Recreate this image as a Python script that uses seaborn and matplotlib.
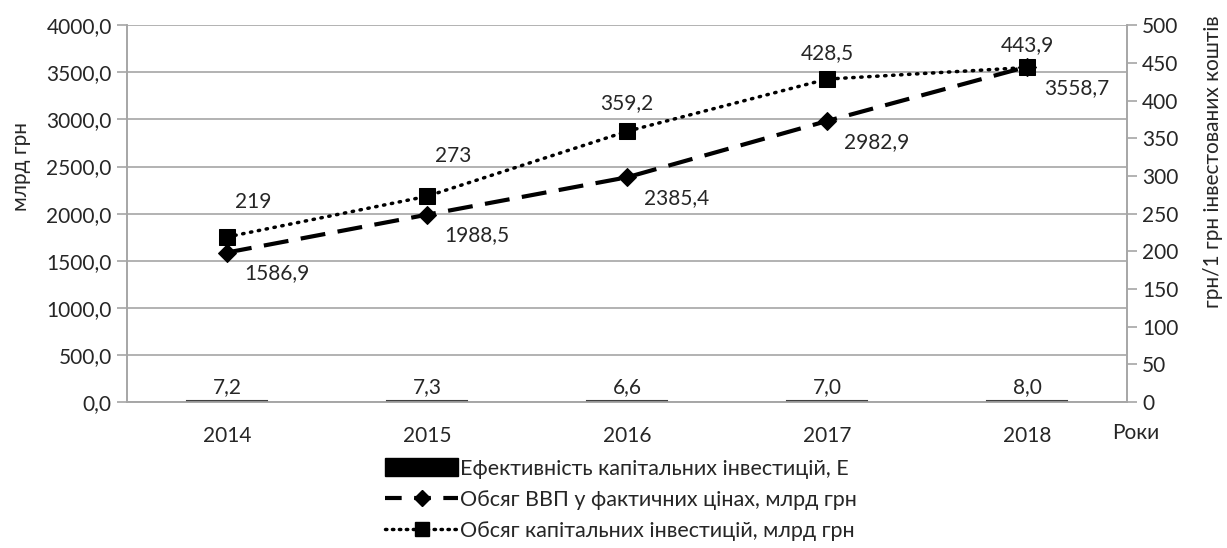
import matplotlib
matplotlib.use("Agg")
import matplotlib.pyplot as plt
import seaborn as sns
import pandas as pd
from matplotlib.patches import Patch
from matplotlib.lines import Line2D
from matplotlib.ticker import FuncFormatter, MultipleLocator

years = ["2014", "2015", "2016", "2017", "2018"]
efficiency = [7.2, 7.3, 6.6, 7.0, 8.0]           # Е
gdp = [1586.9, 1988.5, 2385.4, 2982.9, 3558.7]   # млрд грн
cap_inv = [219, 273, 359.2, 428.5, 443.9]        # млрд грн (права вісь)

lbl_eff = "Ефективність капітальних інвестицій, Е"
lbl_gdp = "Обсяг ВВП у фактичних цінах, млрд грн"
lbl_inv = "Обсяг капітальних інвестицій, млрд грн"

df = pd.DataFrame({"year": years, "eff": efficiency, "gdp": gdp, "inv": cap_inv})


def comma(v, nd=1):
    """Format number with comma decimal separator."""
    return f"{v:.{nd}f}".replace(".", ",")


sns.set_style("white")
plt.rcParams["font.family"] = ["Lato", "DejaVu Sans"]
plt.rcParams["font.size"] = 15

fig = plt.figure(figsize=(12.27, 5.48), dpi=100)
ax = fig.add_axes([0.1035, 0.2664, 0.815, 0.6876])
ax2 = ax.twinx()

grey = "#a6a6a6"

# bars - efficiency on the left axis
sns.barplot(data=df, x="year", y="eff", color="black", width=0.4,
            edgecolor="#404040", linewidth=1.5, ax=ax, zorder=3)
# GDP line - left axis
sns.lineplot(data=df, x="year", y="gdp", ax=ax, color="black", linewidth=3,
             marker="D", markersize=9, markeredgecolor="black", zorder=4)
ax.lines[-1].set_dashes((6, 3))
# capital investments - right axis
sns.lineplot(data=df, x="year", y="inv", ax=ax2, color="black", linewidth=2.5,
             marker="s", markersize=12, markeredgecolor="black", zorder=4)
ax2.lines[-1].set_dashes((0.4, 1.9))
ax2.lines[-1].set_dash_capstyle("round")

ax.set_xlim(-0.5, 4.5)
ax.set_ylim(0, 4000)
ax2.set_ylim(0, 500)
ax.yaxis.set_major_locator(MultipleLocator(500))
ax2.yaxis.set_major_locator(MultipleLocator(50))
ax.yaxis.set_major_formatter(FuncFormatter(lambda v, p: comma(v)))
ax2.yaxis.set_major_formatter(FuncFormatter(lambda v, p: f"{v:.0f}"))

ax.grid(axis="y", color=grey, linewidth=1.2)
ax.set_axisbelow(True)
for a in (ax, ax2):
    for s in a.spines.values():
        s.set_color(grey)
        s.set_linewidth(1.2)
ax.spines["top"].set_visible(False)
ax2.spines["top"].set_visible(False)

# x ticks: labels centred, tick marks at category boundaries
ax.set_xticks(range(len(years)))
ax.set_xticklabels(years)
ax.tick_params(axis="x", length=0, pad=17)
ax.set_xticks([i - 0.5 for i in range(len(years) + 1)], minor=True)
ax.tick_params(axis="x", which="minor", length=7, color=grey, width=1.2)
ax.tick_params(axis="y", length=7, color=grey, width=1.2, direction="out", pad=4)
ax2.tick_params(axis="y", length=7, color=grey, width=1.2, direction="out", pad=4)

ax.set_xlabel("")
ax.set_ylabel("млрд грн")
ax.yaxis.set_label_coords(-0.096, 0.626)
ax2.set_ylabel("грн/1 грн інвестованих коштів")
ax2.yaxis.set_label_coords(1.076, 0.637)
ax.text(0.985, -0.082, "Роки", transform=ax.transAxes, ha="left", va="center")

# data labels
for i, v in enumerate(efficiency):
    ax.annotate(comma(v), (i, v), xytext=(0, 3), textcoords="offset points",
                ha="center", va="bottom")
for i, v in enumerate(gdp):
    ax.annotate(comma(v), (i, v), xytext=(36, -15), textcoords="offset points",
                ha="center", va="center")
inv_txt = ["219", "273", "359,2", "428,5", "443,9"]
inv_off = [(19, 25), (19, 29), (0, 20), (0, 19), (0, 16)]
for i, v in enumerate(cap_inv):
    ax2.annotate(inv_txt[i], (i, v), xytext=inv_off[i], textcoords="offset points",
                 ha="center", va="center")

handles = [
    Patch(facecolor="black", edgecolor="black", label=lbl_eff),
    Line2D([], [], color="black", linewidth=3, dashes=(4, 3), marker="D",
           markersize=8, label=lbl_gdp),
    Line2D([], [], color="black", linewidth=2.5, dashes=(0.4, 1.6),
           dash_capstyle="round", marker="s", markersize=10, label=lbl_inv),
]
fig.legend(handles=handles, loc="upper left", bbox_to_anchor=(0.305, 0.183),
           frameon=False, fontsize=15.5, handlelength=3.4, handleheight=0.9,
           handletextpad=0.1, labelspacing=0.5, borderpad=0)

fig.savefig("out.png", dpi=100)
